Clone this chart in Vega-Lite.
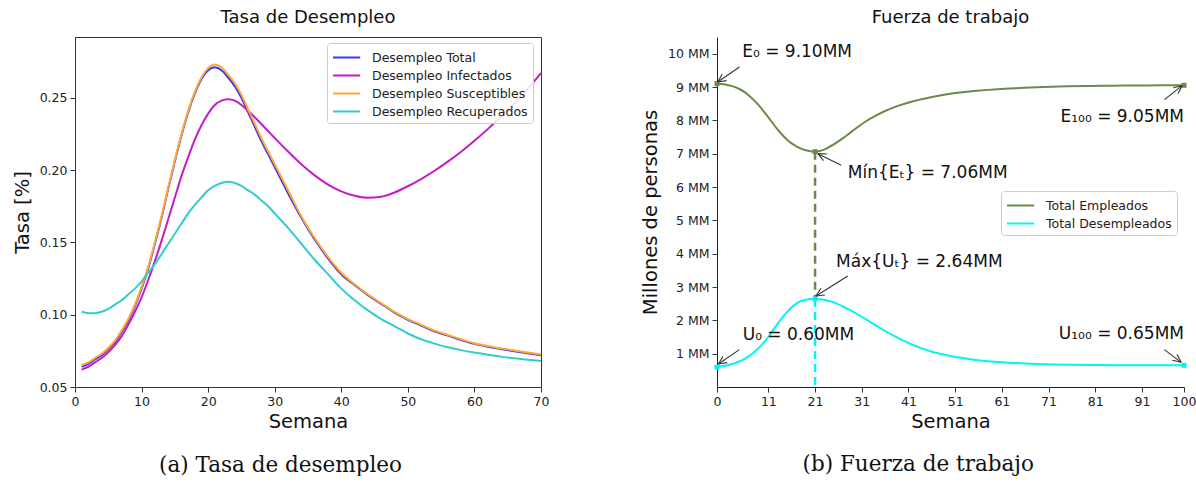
{
  "$schema": "https://vega.github.io/schema/vega-lite/v6.json",
  "padding": {"left": 11, "top": 8, "right": 0, "bottom": 0},
  "config": {
    "font": "DejaVu Sans",
    "axis": {"grid": false, "labelFont": "DejaVu Sans", "labelFontSize": 12.5, "labelColor": "#222", "titleFont": "DejaVu Sans", "titleFontSize": 19.5, "titleFontWeight": "normal", "titleColor": "#111", "tickColor": "#333", "domainColor": "#333", "tickSize": 5, "labelPadding": 3, "titlePadding": 5},
    "title": {"font": "DejaVu Sans", "fontWeight": "normal", "color": "#111"}
  },
  "resolve": {"scale": {"color": "independent"}, "legend": {"color": "independent"}},
  "spacing": 90,
  "datasets": {
    "tasa": [
      {"semana": 1, "Desempleo Total": 0.064, "Desempleo Infectados": 0.062, "Desempleo Susceptibles": 0.065, "Desempleo Recuperados": 0.102},
      {"semana": 2, "Desempleo Total": 0.066, "Desempleo Infectados": 0.064, "Desempleo Susceptibles": 0.067, "Desempleo Recuperados": 0.101},
      {"semana": 3, "Desempleo Total": 0.069, "Desempleo Infectados": 0.067, "Desempleo Susceptibles": 0.070, "Desempleo Recuperados": 0.101},
      {"semana": 4, "Desempleo Total": 0.072, "Desempleo Infectados": 0.070, "Desempleo Susceptibles": 0.073, "Desempleo Recuperados": 0.102},
      {"semana": 5, "Desempleo Total": 0.076, "Desempleo Infectados": 0.074, "Desempleo Susceptibles": 0.077, "Desempleo Recuperados": 0.104},
      {"semana": 6, "Desempleo Total": 0.081, "Desempleo Infectados": 0.079, "Desempleo Susceptibles": 0.082, "Desempleo Recuperados": 0.107},
      {"semana": 7, "Desempleo Total": 0.088, "Desempleo Infectados": 0.085, "Desempleo Susceptibles": 0.089, "Desempleo Recuperados": 0.110},
      {"semana": 8, "Desempleo Total": 0.096, "Desempleo Infectados": 0.093, "Desempleo Susceptibles": 0.097, "Desempleo Recuperados": 0.114},
      {"semana": 9, "Desempleo Total": 0.106, "Desempleo Infectados": 0.102, "Desempleo Susceptibles": 0.107, "Desempleo Recuperados": 0.118},
      {"semana": 10, "Desempleo Total": 0.118, "Desempleo Infectados": 0.112, "Desempleo Susceptibles": 0.119, "Desempleo Recuperados": 0.123},
      {"semana": 11, "Desempleo Total": 0.132, "Desempleo Infectados": 0.124, "Desempleo Susceptibles": 0.133, "Desempleo Recuperados": 0.129},
      {"semana": 12, "Desempleo Total": 0.149, "Desempleo Infectados": 0.137, "Desempleo Susceptibles": 0.150, "Desempleo Recuperados": 0.135},
      {"semana": 13, "Desempleo Total": 0.167, "Desempleo Infectados": 0.151, "Desempleo Susceptibles": 0.168, "Desempleo Recuperados": 0.142},
      {"semana": 14, "Desempleo Total": 0.187, "Desempleo Infectados": 0.166, "Desempleo Susceptibles": 0.188, "Desempleo Recuperados": 0.149},
      {"semana": 15, "Desempleo Total": 0.206, "Desempleo Infectados": 0.181, "Desempleo Susceptibles": 0.207, "Desempleo Recuperados": 0.156},
      {"semana": 16, "Desempleo Total": 0.224, "Desempleo Infectados": 0.196, "Desempleo Susceptibles": 0.225, "Desempleo Recuperados": 0.163},
      {"semana": 17, "Desempleo Total": 0.240, "Desempleo Infectados": 0.209, "Desempleo Susceptibles": 0.241, "Desempleo Recuperados": 0.170},
      {"semana": 18, "Desempleo Total": 0.253, "Desempleo Infectados": 0.221, "Desempleo Susceptibles": 0.254, "Desempleo Recuperados": 0.176},
      {"semana": 19, "Desempleo Total": 0.263, "Desempleo Infectados": 0.231, "Desempleo Susceptibles": 0.264, "Desempleo Recuperados": 0.181},
      {"semana": 20, "Desempleo Total": 0.269, "Desempleo Infectados": 0.239, "Desempleo Susceptibles": 0.2705, "Desempleo Recuperados": 0.186},
      {"semana": 21, "Desempleo Total": 0.271, "Desempleo Infectados": 0.245, "Desempleo Susceptibles": 0.273, "Desempleo Recuperados": 0.189},
      {"semana": 22, "Desempleo Total": 0.269, "Desempleo Infectados": 0.248, "Desempleo Susceptibles": 0.271, "Desempleo Recuperados": 0.191},
      {"semana": 23, "Desempleo Total": 0.264, "Desempleo Infectados": 0.249, "Desempleo Susceptibles": 0.266, "Desempleo Recuperados": 0.192},
      {"semana": 24, "Desempleo Total": 0.258, "Desempleo Infectados": 0.248, "Desempleo Susceptibles": 0.260, "Desempleo Recuperados": 0.191},
      {"semana": 25, "Desempleo Total": 0.250, "Desempleo Infectados": 0.245, "Desempleo Susceptibles": 0.252, "Desempleo Recuperados": 0.189},
      {"semana": 26, "Desempleo Total": 0.240, "Desempleo Infectados": 0.241, "Desempleo Susceptibles": 0.242, "Desempleo Recuperados": 0.186},
      {"semana": 27, "Desempleo Total": 0.230, "Desempleo Infectados": 0.2365, "Desempleo Susceptibles": 0.232, "Desempleo Recuperados": 0.183},
      {"semana": 28, "Desempleo Total": 0.220, "Desempleo Infectados": 0.2318, "Desempleo Susceptibles": 0.222, "Desempleo Recuperados": 0.179},
      {"semana": 29, "Desempleo Total": 0.211, "Desempleo Infectados": 0.227, "Desempleo Susceptibles": 0.213, "Desempleo Recuperados": 0.175},
      {"semana": 30, "Desempleo Total": 0.202, "Desempleo Infectados": 0.2222, "Desempleo Susceptibles": 0.204, "Desempleo Recuperados": 0.170},
      {"semana": 32, "Desempleo Total": 0.184, "Desempleo Infectados": 0.2128, "Desempleo Susceptibles": 0.186, "Desempleo Recuperados": 0.160},
      {"semana": 34, "Desempleo Total": 0.167, "Desempleo Infectados": 0.204, "Desempleo Susceptibles": 0.168, "Desempleo Recuperados": 0.149},
      {"semana": 36, "Desempleo Total": 0.152, "Desempleo Infectados": 0.1963, "Desempleo Susceptibles": 0.153, "Desempleo Recuperados": 0.138},
      {"semana": 38, "Desempleo Total": 0.139, "Desempleo Infectados": 0.1900, "Desempleo Susceptibles": 0.140, "Desempleo Recuperados": 0.128},
      {"semana": 40, "Desempleo Total": 0.128, "Desempleo Infectados": 0.1853, "Desempleo Susceptibles": 0.129, "Desempleo Recuperados": 0.118},
      {"semana": 42, "Desempleo Total": 0.1205, "Desempleo Infectados": 0.1822, "Desempleo Susceptibles": 0.121, "Desempleo Recuperados": 0.110},
      {"semana": 44, "Desempleo Total": 0.1135, "Desempleo Infectados": 0.1808, "Desempleo Susceptibles": 0.114, "Desempleo Recuperados": 0.103},
      {"semana": 46, "Desempleo Total": 0.1075, "Desempleo Infectados": 0.1815, "Desempleo Susceptibles": 0.108, "Desempleo Recuperados": 0.097},
      {"semana": 48, "Desempleo Total": 0.1015, "Desempleo Infectados": 0.1845, "Desempleo Susceptibles": 0.102, "Desempleo Recuperados": 0.092},
      {"semana": 50, "Desempleo Total": 0.0965, "Desempleo Infectados": 0.1888, "Desempleo Susceptibles": 0.097, "Desempleo Recuperados": 0.087},
      {"semana": 52, "Desempleo Total": 0.0925, "Desempleo Infectados": 0.1938, "Desempleo Susceptibles": 0.093, "Desempleo Recuperados": 0.083},
      {"semana": 54, "Desempleo Total": 0.0885, "Desempleo Infectados": 0.1995, "Desempleo Susceptibles": 0.089, "Desempleo Recuperados": 0.080},
      {"semana": 56, "Desempleo Total": 0.0855, "Desempleo Infectados": 0.2058, "Desempleo Susceptibles": 0.086, "Desempleo Recuperados": 0.0775},
      {"semana": 58, "Desempleo Total": 0.0825, "Desempleo Infectados": 0.2127, "Desempleo Susceptibles": 0.083, "Desempleo Recuperados": 0.0755},
      {"semana": 60, "Desempleo Total": 0.0798, "Desempleo Infectados": 0.2202, "Desempleo Susceptibles": 0.0803, "Desempleo Recuperados": 0.0738},
      {"semana": 62, "Desempleo Total": 0.0778, "Desempleo Infectados": 0.2283, "Desempleo Susceptibles": 0.0783, "Desempleo Recuperados": 0.0723},
      {"semana": 64, "Desempleo Total": 0.0762, "Desempleo Infectados": 0.2370, "Desempleo Susceptibles": 0.0767, "Desempleo Recuperados": 0.0710},
      {"semana": 66, "Desempleo Total": 0.0747, "Desempleo Infectados": 0.2463, "Desempleo Susceptibles": 0.0752, "Desempleo Recuperados": 0.0698},
      {"semana": 68, "Desempleo Total": 0.0733, "Desempleo Infectados": 0.2562, "Desempleo Susceptibles": 0.0738, "Desempleo Recuperados": 0.0688},
      {"semana": 70, "Desempleo Total": 0.0720, "Desempleo Infectados": 0.2670, "Desempleo Susceptibles": 0.0725, "Desempleo Recuperados": 0.0680}
    ],
    "fuerza": [
      {"semana": 0, "Total Empleados": 9.10, "Total Desempleados": 0.60},
      {"semana": 1, "Total Empleados": 9.09, "Total Desempleados": 0.62},
      {"semana": 2, "Total Empleados": 9.07, "Total Desempleados": 0.645},
      {"semana": 3, "Total Empleados": 9.035, "Total Desempleados": 0.68},
      {"semana": 4, "Total Empleados": 8.99, "Total Desempleados": 0.725},
      {"semana": 5, "Total Empleados": 8.925, "Total Desempleados": 0.78},
      {"semana": 6, "Total Empleados": 8.84, "Total Desempleados": 0.85},
      {"semana": 7, "Total Empleados": 8.725, "Total Desempleados": 0.94},
      {"semana": 8, "Total Empleados": 8.59, "Total Desempleados": 1.05},
      {"semana": 9, "Total Empleados": 8.44, "Total Desempleados": 1.18},
      {"semana": 10, "Total Empleados": 8.27, "Total Desempleados": 1.33},
      {"semana": 11, "Total Empleados": 8.09, "Total Desempleados": 1.50},
      {"semana": 12, "Total Empleados": 7.90, "Total Desempleados": 1.70},
      {"semana": 13, "Total Empleados": 7.72, "Total Desempleados": 1.90},
      {"semana": 14, "Total Empleados": 7.56, "Total Desempleados": 2.08},
      {"semana": 15, "Total Empleados": 7.42, "Total Desempleados": 2.25},
      {"semana": 16, "Total Empleados": 7.31, "Total Desempleados": 2.39},
      {"semana": 17, "Total Empleados": 7.22, "Total Desempleados": 2.50},
      {"semana": 18, "Total Empleados": 7.15, "Total Desempleados": 2.58},
      {"semana": 19, "Total Empleados": 7.10, "Total Desempleados": 2.62},
      {"semana": 20, "Total Empleados": 7.07, "Total Desempleados": 2.64},
      {"semana": 21, "Total Empleados": 7.06, "Total Desempleados": 2.64},
      {"semana": 22, "Total Empleados": 7.08, "Total Desempleados": 2.63},
      {"semana": 23, "Total Empleados": 7.13, "Total Desempleados": 2.61},
      {"semana": 24, "Total Empleados": 7.20, "Total Desempleados": 2.58},
      {"semana": 25, "Total Empleados": 7.28, "Total Desempleados": 2.535},
      {"semana": 26, "Total Empleados": 7.37, "Total Desempleados": 2.48},
      {"semana": 27, "Total Empleados": 7.465, "Total Desempleados": 2.415},
      {"semana": 28, "Total Empleados": 7.57, "Total Desempleados": 2.345},
      {"semana": 29, "Total Empleados": 7.68, "Total Desempleados": 2.27},
      {"semana": 30, "Total Empleados": 7.785, "Total Desempleados": 2.19},
      {"semana": 32, "Total Empleados": 7.98, "Total Desempleados": 2.02},
      {"semana": 34, "Total Empleados": 8.14, "Total Desempleados": 1.85},
      {"semana": 36, "Total Empleados": 8.28, "Total Desempleados": 1.68},
      {"semana": 38, "Total Empleados": 8.395, "Total Desempleados": 1.525},
      {"semana": 40, "Total Empleados": 8.49, "Total Desempleados": 1.385},
      {"semana": 42, "Total Empleados": 8.57, "Total Desempleados": 1.26},
      {"semana": 44, "Total Empleados": 8.64, "Total Desempleados": 1.15},
      {"semana": 46, "Total Empleados": 8.70, "Total Desempleados": 1.06},
      {"semana": 48, "Total Empleados": 8.755, "Total Desempleados": 0.99},
      {"semana": 50, "Total Empleados": 8.80, "Total Desempleados": 0.93},
      {"semana": 55, "Total Empleados": 8.88, "Total Desempleados": 0.82},
      {"semana": 60, "Total Empleados": 8.935, "Total Desempleados": 0.75},
      {"semana": 65, "Total Empleados": 8.97, "Total Desempleados": 0.71},
      {"semana": 70, "Total Empleados": 9.00, "Total Desempleados": 0.685},
      {"semana": 75, "Total Empleados": 9.02, "Total Desempleados": 0.67},
      {"semana": 80, "Total Empleados": 9.03, "Total Desempleados": 0.66},
      {"semana": 85, "Total Empleados": 9.04, "Total Desempleados": 0.655},
      {"semana": 90, "Total Empleados": 9.045, "Total Desempleados": 0.65},
      {"semana": 95, "Total Empleados": 9.05, "Total Desempleados": 0.65},
      {"semana": 100, "Total Empleados": 9.05, "Total Desempleados": 0.65}
    ]
  },
  "hconcat": [
    {
      "title": {"text": "(a) Tasa de desempleo", "orient": "bottom", "font": "DejaVu Serif", "fontSize": 21.5, "fontWeight": "normal", "color": "#111", "offset": 23, "anchor": "middle"},
      "vconcat": [
        {
          "title": {"text": "Tasa de Desempleo", "fontSize": 18, "fontWeight": "normal", "offset": 10, "anchor": "middle"},
          "width": 466,
          "height": 350,
          "view": {"stroke": "#333", "strokeWidth": 1},
          "data": {"name": "tasa"},
          "transform": [{"fold": ["Desempleo Total", "Desempleo Infectados", "Desempleo Susceptibles", "Desempleo Recuperados"], "as": ["serie", "tasa"]}],
          "mark": {"type": "line", "strokeWidth": 2, "interpolate": "monotone"},
          "encoding": {
            "x": {"field": "semana", "type": "quantitative", "scale": {"domain": [0, 70], "nice": false}, "axis": {"values": [0, 10, 20, 30, 40, 50, 60, 70], "title": "Semana", "labelFlush": false}},
            "y": {"field": "tasa", "type": "quantitative", "scale": {"domain": [0.05, 0.292], "nice": false, "zero": false}, "axis": {"values": [0.05, 0.1, 0.15, 0.2, 0.25], "format": ".2f", "title": "Tasa [%]", "titlePadding": 7, "labelFlush": false}},
            "color": {
              "field": "serie", "type": "nominal",
              "scale": {"domain": ["Desempleo Total", "Desempleo Infectados", "Desempleo Susceptibles", "Desempleo Recuperados"], "range": ["#3535f5", "#c41cc4", "#ffa733", "#33cccc"]},
              "legend": {"orient": "none", "legendX": 252, "legendY": 6, "title": null, "symbolType": "M-1,0L2.2,0", "symbolSize": 289, "symbolStrokeWidth": 2, "labelFontSize": 12.5, "labelOffset": 21, "labelColor": "#222", "rowPadding": 2, "padding": 5, "fillColor": "rgba(255,255,255,0.85)", "strokeColor": "#cccccc", "cornerRadius": 3}
            }
          }
        }
      ]
    },
    {
      "title": {"text": "(b) Fuerza de trabajo", "orient": "bottom", "font": "DejaVu Serif", "fontSize": 21.5, "fontWeight": "normal", "color": "#111", "offset": 23, "anchor": "middle"},
      "vconcat": [
        {
          "title": {"text": "Fuerza de trabajo", "fontSize": 18, "fontWeight": "normal", "offset": 10, "anchor": "middle"},
          "width": 467,
          "height": 350,
          "view": {"stroke": null},
          "encoding": {
            "x": {"field": "semana", "type": "quantitative", "scale": {"domain": [0, 100], "nice": false}, "axis": {"values": [0, 11, 21, 31, 41, 51, 61, 71, 81, 91, 100], "title": "Semana", "labelFlush": false, "domainColor": "#222"}},
            "y": {"field": "valor", "type": "quantitative", "scale": {"domain": [0, 10.5], "nice": false}, "axis": {"values": [1, 2, 3, 4, 5, 6, 7, 8, 9, 10], "labelExpr": "datum.value + ' MM'", "title": "Millones de personas", "titlePadding": 7, "labelFlush": false, "domainColor": "#222"}}
          },
          "layer": [
            {
              "data": {"name": "fuerza"},
              "transform": [{"fold": ["Total Empleados", "Total Desempleados"], "as": ["serie", "valor"]}],
              "mark": {"type": "line", "strokeWidth": 2, "interpolate": "monotone"},
              "encoding": {
                "color": {
                  "field": "serie", "type": "nominal",
                  "scale": {"domain": ["Total Empleados", "Total Desempleados"], "range": ["#6b8a47", "#00f5f5"]},
                  "legend": {"orient": "none", "legendX": 284, "legendY": 154, "title": null, "symbolType": "M-1,0L2.2,0", "symbolSize": 289, "symbolStrokeWidth": 2, "labelFontSize": 12.5, "labelOffset": 21, "labelColor": "#222", "rowPadding": 2, "padding": 5, "fillColor": "rgba(255,255,255,0.85)", "strokeColor": "#cccccc", "cornerRadius": 3}
                }
              }
            },
            {
              "data": {"values": [
                {"semana": 21, "valor": 7.06, "valor2": 2.64, "serie": "Total Empleados"},
                {"semana": 21, "valor": 2.64, "valor2": 0, "serie": "Total Desempleados"}
              ]},
              "mark": {"type": "rule", "strokeWidth": 2.5, "strokeDash": [8, 5]},
              "encoding": {
                "y2": {"field": "valor2"},
                "color": {"field": "serie", "type": "nominal", "legend": null}
              }
            },
            {
              "data": {"values": [
                {"semana": 0, "valor": 9.10, "serie": "Total Empleados"},
                {"semana": 21, "valor": 7.06, "serie": "Total Empleados"},
                {"semana": 100, "valor": 9.05, "serie": "Total Empleados"},
                {"semana": 0, "valor": 0.60, "serie": "Total Desempleados"},
                {"semana": 21, "valor": 2.64, "serie": "Total Desempleados"},
                {"semana": 100, "valor": 0.65, "serie": "Total Desempleados"}
              ]},
              "mark": {"type": "point", "shape": "square", "filled": true, "size": 25, "opacity": 1},
              "encoding": {
                "color": {"field": "serie", "type": "nominal", "legend": null}
              }
            },
            {
              "data": {"values": [
                {"semana": 4.8, "valor": 9.6, "semana2": 0.15, "valor2": 9.15},
                {"semana": 0.15, "valor": 9.15, "semana2": 2.06, "valor2": 9.19},
                {"semana": 0.15, "valor": 9.15, "semana2": 1.11, "valor2": 9.38},
                {"semana": 26.6, "valor": 6.65, "semana2": 21.6, "valor2": 7.0},
                {"semana": 21.6, "valor": 7.0, "semana2": 22.8, "valor2": 6.79},
                {"semana": 21.6, "valor": 7.0, "semana2": 23.53, "valor2": 6.99},
                {"semana": 28, "valor": 3.33, "semana2": 21.2, "valor2": 2.73},
                {"semana": 21.2, "valor": 2.73, "semana2": 23.1, "valor2": 2.76},
                {"semana": 21.2, "valor": 2.73, "semana2": 22.25, "valor2": 2.96},
                {"semana": 4.8, "valor": 1.12, "semana2": 0.3, "valor2": 0.69},
                {"semana": 0.3, "valor": 0.69, "semana2": 2.2, "valor2": 0.73},
                {"semana": 0.3, "valor": 0.69, "semana2": 1.28, "valor2": 0.92},
                {"semana": 95.8, "valor": 1.12, "semana2": 99.4, "valor2": 0.74},
                {"semana": 99.4, "valor": 0.74, "semana2": 98.5, "valor2": 0.976},
                {"semana": 99.4, "valor": 0.74, "semana2": 97.5, "valor2": 0.80},
                {"semana": 95.8, "valor": 8.62, "semana2": 99.6, "valor2": 9.04},
                {"semana": 99.6, "valor": 9.04, "semana2": 97.7, "valor2": 8.98},
                {"semana": 99.6, "valor": 9.04, "semana2": 98.7, "valor2": 8.80}
              ]},
              "mark": {"type": "rule", "color": "#333", "strokeWidth": 1.1},
              "encoding": {
                "x2": {"field": "semana2"},
                "y2": {"field": "valor2"}
              }
            },
            {
              "data": {"values": [
                {"semana": 5.4, "valor": 10.06, "nota": "E₀ = 9.10MM"},
                {"semana": 28, "valor": 6.41, "nota": "Mín{Eₜ} = 7.06MM"},
                {"semana": 25.5, "valor": 3.76, "nota": "Máx{Uₜ} = 2.64MM"},
                {"semana": 5.5, "valor": 1.56, "nota": "U₀ = 0.60MM"}
              ]},
              "mark": {"type": "text", "align": "left", "baseline": "middle", "fontSize": 17, "color": "#111"},
              "encoding": {"text": {"field": "nota"}}
            },
            {
              "data": {"values": [
                {"semana": 100, "valor": 8.10, "nota": "E₁₀₀ = 9.05MM"},
                {"semana": 100, "valor": 1.59, "nota": "U₁₀₀ = 0.65MM"}
              ]},
              "mark": {"type": "text", "align": "right", "baseline": "middle", "fontSize": 17, "color": "#111"},
              "encoding": {"text": {"field": "nota"}}
            }
          ]
        }
      ]
    }
  ]
}
